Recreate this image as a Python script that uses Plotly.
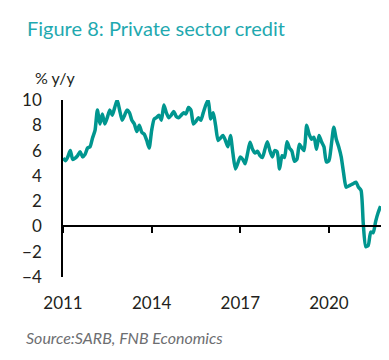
import plotly.graph_objects as go
import pandas as pd

# Monthly private sector credit growth, % y/y
start_month = "2011-01-01"
values_2011 = [5.4, 5.2, 5.5, 6.0, 5.3, 5.4, 5.6, 5.9, 5.5, 5.7, 6.2, 6.3]
values_2012 = [7.0, 7.6, 9.2, 8.1, 8.9, 8.1, 8.6, 9.2, 8.8, 9.4, 10.0, 9.2]
values_2013 = [8.4, 8.8, 9.2, 9.0, 8.4, 8.1, 7.5, 8.0, 7.45, 7.3, 6.8, 6.2]
values_2014 = [7.6, 8.5, 8.6, 8.8, 8.4, 9.6, 9.0, 8.6, 8.8, 9.1, 8.7, 8.6]
values_2015 = [8.8, 9.0, 8.9, 9.4, 9.2, 8.1, 8.3, 8.6, 8.4, 9.0, 9.6, 10.0]
values_2016 = [8.5, 9.0, 8.0, 6.8, 7.0, 7.2, 6.8, 6.3, 7.2, 5.8, 4.55, 5.0]
values_2017 = [5.5, 5.3, 4.95, 5.8, 6.65, 6.1, 5.8, 5.95, 5.6, 5.45, 6.1, 6.7]
values_2018 = [6.0, 5.5, 6.0, 5.9, 4.55, 5.6, 5.45, 6.7, 6.2, 5.95, 5.15, 5.3]
values_2019 = [6.5, 6.2, 6.0, 8.0, 7.3, 6.9, 7.05, 6.1, 7.2, 6.7, 6.3, 5.1]
values_2020 = [5.2, 6.5, 7.85, 6.9, 6.3, 5.5, 4.2, 3.1, 3.2, 3.3, 3.4, 3.5]
values_2021 = [3.1, 2.85, 0.2, -1.6, -1.5, -0.45, -0.5, 0.4, 1.1, 1.6]

credit_growth = (values_2011 + values_2012 + values_2013 + values_2014 + values_2015
                 + values_2016 + values_2017 + values_2018 + values_2019 + values_2020
                 + values_2021)
dates = pd.date_range(start_month, periods=len(credit_growth), freq="MS")

x_tick_years = ["2011", "2014", "2017", "2020"]
x_tick_vals = [f"{y}-01-01" for y in x_tick_years]
y_tick_vals = [-4, -2, 0, 2, 4, 6, 8, 10]

FONT = "Lato"
x_range = ["2011-01-01", "2021-11-12"]

# page has an 8px body margin; figure is sized to fit the 389x360 window
W, H = 381, 352
ML, MR, MT, MB = 55, 5, 92, 83
PW = W - ML - MR
PH = H - MT - MB

fig = go.Figure()
fig.add_trace(go.Scatter(
    x=dates, y=credit_growth, mode="lines",
    line=dict(color="#00968f", width=3.5, shape="spline", smoothing=0.6),
    showlegend=False, hoverinfo="skip",
))
# helper so the zero-line axis (x2) is rendered
fig.add_trace(go.Scatter(x=[dates[0]], y=[None], xaxis="x2", showlegend=False, hoverinfo="skip"))

fig.update_layout(
    width=W, height=H,
    margin=dict(l=ML, r=MR, t=MT, b=MB),
    paper_bgcolor="white", plot_bgcolor="white",
    font=dict(family=FONT, size=16, color="#231f20"),
    xaxis=dict(
        type="date", range=x_range,
        tickvals=x_tick_vals, ticktext=x_tick_years,
        showline=False, showgrid=False, zeroline=False,
        ticks="", ticklabelstandoff=14,
        tickfont=dict(size=17),
    ),
    xaxis2=dict(
        type="date", range=x_range, overlaying="x",
        anchor="free", position=4 / 14,
        tickvals=x_tick_vals, showticklabels=False,
        showline=True, linecolor="black", linewidth=1.5,
        ticks="outside", ticklen=6, tickwidth=1.5, tickcolor="black",
        showgrid=False, zeroline=False,
    ),
    yaxis=dict(
        range=[-4, 10], tickvals=y_tick_vals,
        showline=True, linecolor="black", linewidth=1.5,
        showgrid=False, zeroline=False, ticks="",
        ticklabelstandoff=16, tickfont=dict(size=17),
    ),
    annotations=[
        dict(text="Figure 8: Private sector credit", xref="paper", yref="paper",
             x=(17 - ML) / PW, y=1 + 71.5 / PH, xanchor="left", yanchor="middle",
             showarrow=False, font=dict(family=FONT, size=20, color="#1fa9b0")),
        dict(text="% y/y", xref="paper", yref="paper",
             x=(25 - ML) / PW, y=1 + 22.5 / PH, xanchor="left", yanchor="middle",
             showarrow=False, font=dict(family=FONT, size=16, color="#231f20")),
        dict(text="<i>Source:SARB, FNB Economics</i>", xref="paper", yref="paper",
             x=(16 - ML) / PW, y=-60 / PH, xanchor="left", yanchor="middle",
             showarrow=False, font=dict(family=FONT, size=16, color="#6d6e71")),
    ],
)

fig.write_html("out.html")
